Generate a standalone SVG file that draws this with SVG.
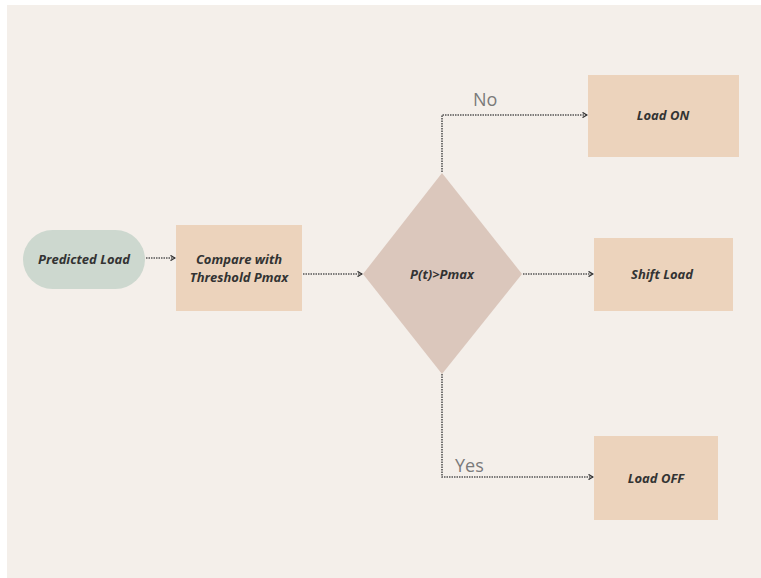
<svg xmlns="http://www.w3.org/2000/svg" width="761" height="578" viewBox="0 0 761 578">
<defs>
<style>
.box{fill:#ECD3BC}
.lbl{font-family:"Open Sans","Liberation Sans",sans-serif;font-weight:700;font-style:italic;font-size:13px;fill:#333333;text-anchor:middle}
.br{font-family:"Open Sans","Liberation Sans",sans-serif;font-size:18px;fill:#7a7a7a}
.con{fill:none;stroke:#555555;stroke-width:1.6;stroke-dasharray:1.5 1}
</style>
<marker id="ah" viewBox="0 0 8 8" refX="7" refY="4" markerWidth="6" markerHeight="6" markerUnits="userSpaceOnUse" orient="auto">
<path d="M1,0.5 L7,4 L1,7.5" fill="none" stroke="#333" stroke-width="1.6"/>
</marker>
</defs>
<rect x="0" y="0" width="761" height="578" fill="#ffffff"/>
<rect x="7" y="5" width="754" height="573" fill="#F4EFEA"/>
<g id="connectors">
<path class="con" d="M146,258 L175,258" marker-end="url(#ah)"/>
<path class="con" d="M303,274 L362,274" marker-end="url(#ah)"/>
<path class="con" d="M523,274 L593,274" marker-end="url(#ah)"/>
<path class="con" d="M442,172 L442,115 L587,115" marker-end="url(#ah)"/>
<path class="con" d="M442,374 L442,477 L593,477" marker-end="url(#ah)"/>
<text class="br" x="473" y="106">No</text>
<text class="br" x="455" y="472">Yes</text>
</g>
<g id="predicted">
<rect x="23" y="230" width="122" height="59" rx="29.5" fill="#CDD8CF"/>
<text class="lbl" x="84" y="264">Predicted Load</text>
</g>
<g id="compare">
<rect class="box" x="176" y="225" width="126" height="86"/>
<text class="lbl" x="239" y="264">Compare with</text>
<text class="lbl" x="239" y="282">Threshold Pmax</text>
</g>
<g id="decision">
<polygon points="442,173 522,274 442,374 363,274" fill="#DBC7BC"/>
<text class="lbl" x="442" y="279">P(t)&gt;Pmax</text>
</g>
<g id="loadon">
<rect class="box" x="588" y="75" width="151" height="82"/>
<text class="lbl" x="663" y="120">Load ON</text>
</g>
<g id="shift">
<rect class="box" x="594" y="238" width="139" height="73"/>
<text class="lbl" x="662" y="279">Shift Load</text>
</g>
<g id="loadoff">
<rect class="box" x="594" y="436" width="124" height="84"/>
<text class="lbl" x="656" y="483">Load OFF</text>
</g>
</svg>
